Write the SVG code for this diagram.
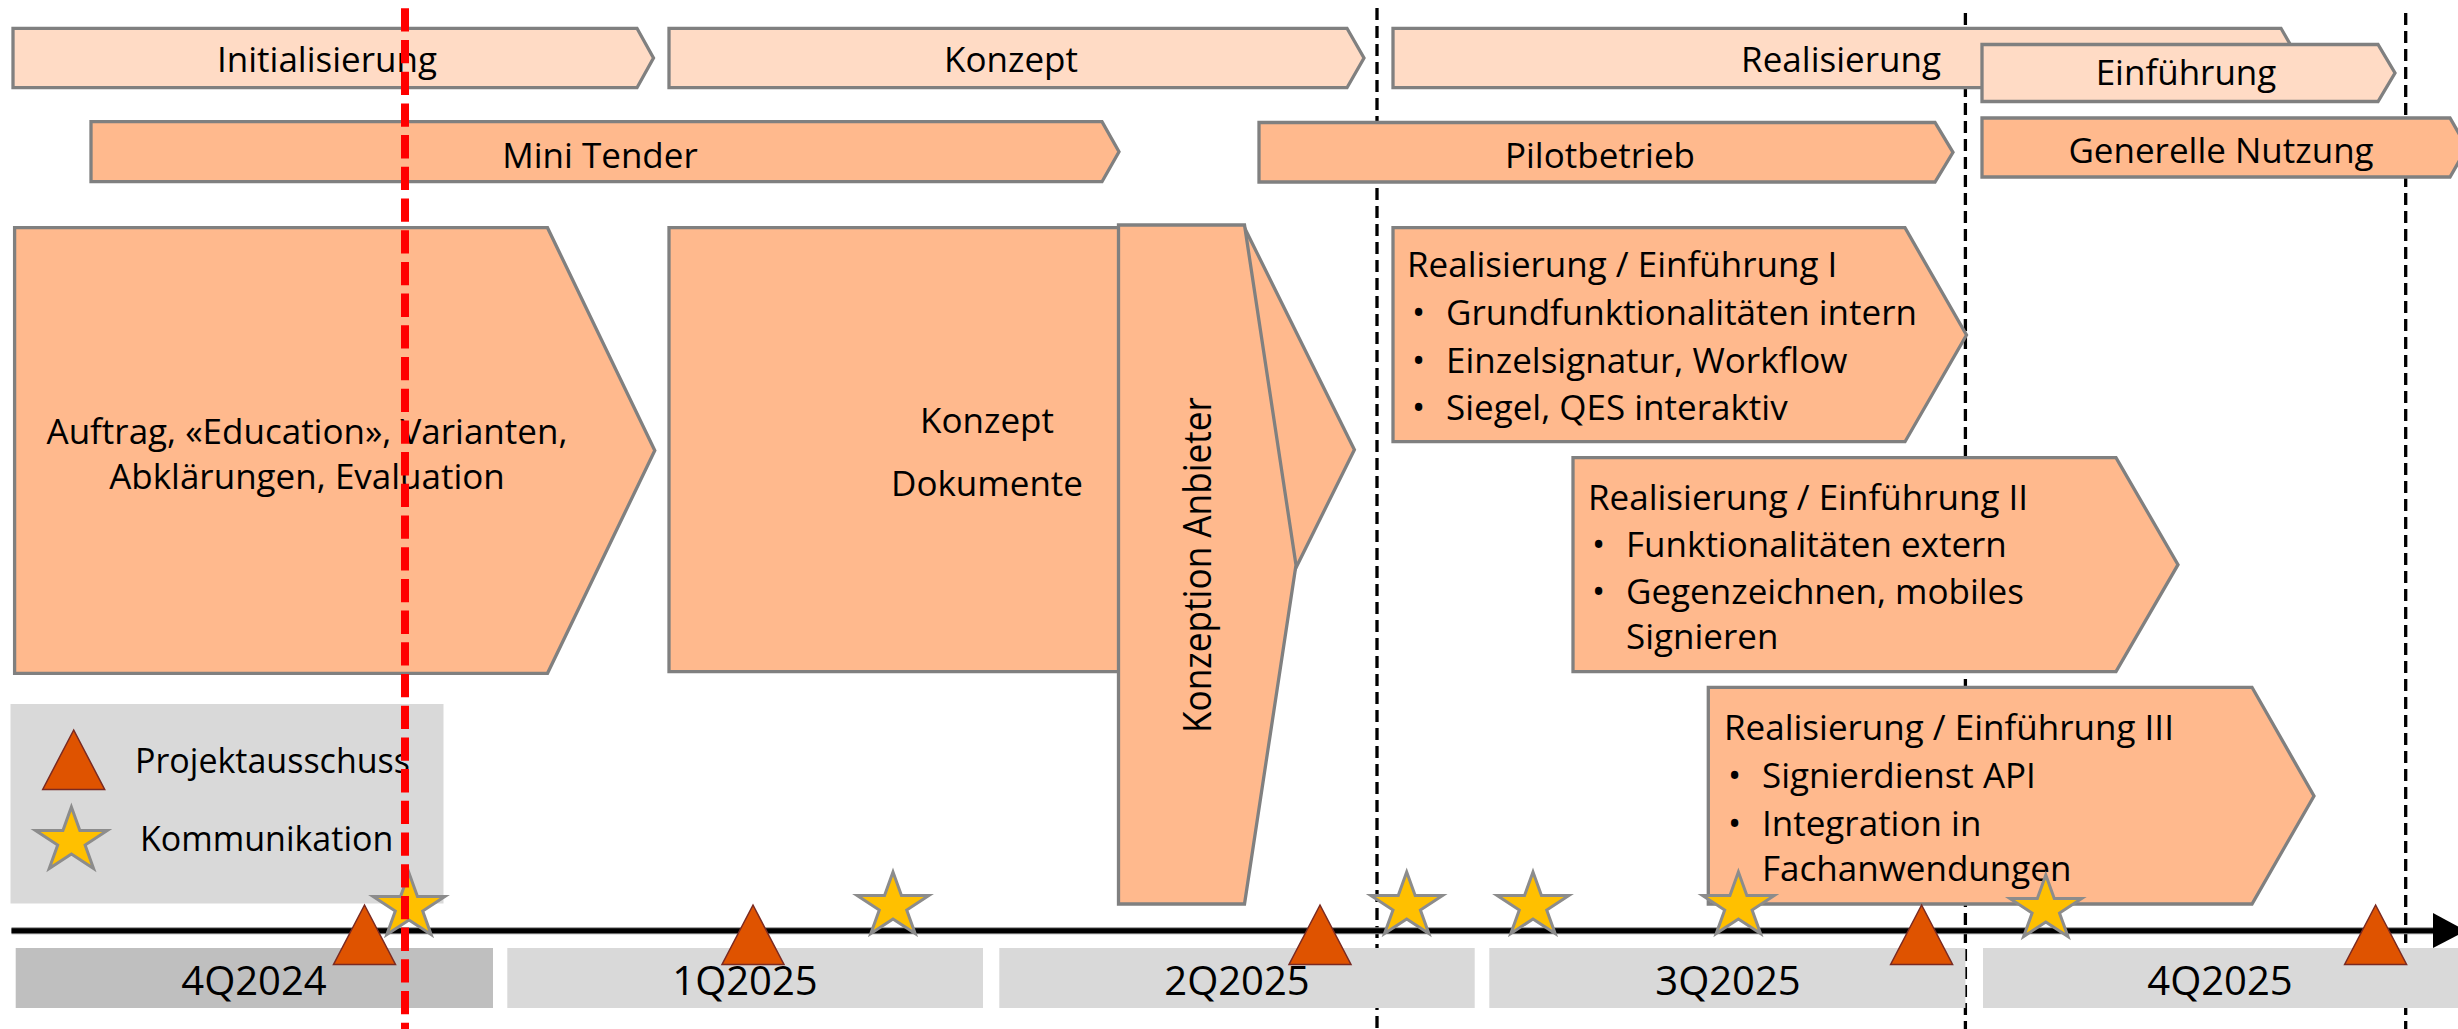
<svg xmlns="http://www.w3.org/2000/svg" width="2458" height="1029" viewBox="0 0 2458 1029">
<style>
text{font-family:"Open Sans","Noto Sans","Liberation Sans",sans-serif;fill:#000}
.t{font-size:35px}
.l{font-size:34px}
.c{text-anchor:middle}
.q{font-size:40px;text-anchor:middle}
.p1{fill:#FFDBC5;stroke:#808080;stroke-width:3.3}
.p2{fill:#FFB98D;stroke:#808080;stroke-width:3.3}
.bar{fill:#D9D9D9}
.bar0{fill:#BFBFBF}
.vd{stroke:#000;stroke-width:3.3;stroke-dasharray:12 6;fill:none}
.tri{fill:#DF5300;stroke:#7A2A22;stroke-width:1.5}
.star{fill:#FFC000;stroke:#8C8C8C;stroke-width:3}
</style>
<defs>
<path id="star" d="M0,-34 L8.46,-10.5 L35.86,-10.5 L13.7,4 L22.17,27.5 L0,13 L-22.17,27.5 L-13.7,4 L-35.86,-10.5 L-8.46,-10.5 Z"/>
<path id="tri" d="M0,0 L31,59.5 L-31,59.5 Z"/>
</defs>

<g id="gridlines">
<line class="vd" x1="1377" y1="8" x2="1377" y2="1029"/>
<line class="vd" x1="1965.4" y1="13" x2="1965.4" y2="1029"/>
<line class="vd" x1="2405.7" y1="13" x2="2405.7" y2="1029"/>
</g>

<g id="phase-initialisierung">
<polygon class="p1" points="13,28.3 637,28.3 653.5,58 637,87.7 13,87.7"/>
<text class="t c" x="327" y="72">Initialisierung</text>
</g>
<g id="phase-konzept">
<polygon class="p1" points="669,28.3 1347,28.3 1364,58 1347,87.7 669,87.7"/>
<text class="t c" x="1011" y="72">Konzept</text>
</g>
<g id="phase-realisierung">
<polygon class="p1" points="1393,28.3 2281,28.3 2298,58 2281,87.7 1393,87.7"/>
<text class="t c" x="1841" y="72">Realisierung</text>
</g>
<g id="phase-einfuehrung">
<polygon class="p1" points="1982,44.5 2378,44.5 2395,73 2378,101.5 1982,101.5"/>
<text class="t c" x="2186" y="85">Einführung</text>
</g>

<g id="mini-tender">
<polygon class="p2" points="91,121.7 1102,121.7 1119,151.7 1102,181.7 91,181.7"/>
<text class="t c" x="600" y="168">Mini Tender</text>
</g>
<g id="pilotbetrieb">
<polygon class="p2" points="1259,122.5 1935,122.5 1953,152.3 1935,182 1259,182"/>
<text class="t c" x="1600" y="168">Pilotbetrieb</text>
</g>
<g id="generelle-nutzung">
<polygon class="p2" points="1982,118 2450,118 2467,147.5 2450,177 1982,177"/>
<text class="t c" x="2221" y="163">Generelle Nutzung</text>
</g>

<g id="auftrag">
<polygon class="p2" points="14.6,227.7 547.5,227.7 654.8,450.5 547.5,673.3 14.6,673.3"/>
<text class="t c" x="307" y="444">Auftrag, «Education», Varianten,</text>
<text class="t c" x="307" y="489">Abklärungen, Evaluation</text>
</g>
<g id="konzept-dokumente">
<polygon class="p2" points="669,227.7 1244.5,227.7 1354.4,449.7 1244.5,671.7 669,671.7"/>
<text class="t c" x="987" y="433">Konzept</text>
<text class="t c" x="987" y="496">Dokumente</text>
</g>
<g id="konzeption-anbieter">
<polygon class="p2" points="1118.5,225 1244.5,225 1296,565 1244.5,904 1118.5,904"/>
<text transform="translate(1211,733) rotate(-90)" x="0" y="0" style="font-size:38px" textLength="336" lengthAdjust="spacingAndGlyphs">Konzeption Anbieter</text>
</g>

<g id="realisierung-1">
<polygon class="p2" points="1393,227.7 1905,227.7 1966.5,335 1905,441.7 1393,441.7"/>
<text class="t" x="1407" y="277">Realisierung / Einführung I</text>
<text class="t" x="1412" y="325">•</text><text class="t" x="1446" y="325">Grundfunktionalitäten intern</text>
<text class="t" x="1412" y="373">•</text><text class="t" x="1446" y="373">Einzelsignatur, Workflow</text>
<text class="t" x="1412" y="420">•</text><text class="t" x="1446" y="420">Siegel, QES interaktiv</text>
</g>
<g id="realisierung-2">
<polygon class="p2" points="1573,457.7 2116,457.7 2178,564.7 2116,671.7 1573,671.7"/>
<text class="t" x="1588" y="510">Realisierung / Einführung II</text>
<text class="t" x="1592" y="557">•</text><text class="t" x="1626" y="557">Funktionalitäten extern</text>
<text class="t" x="1592" y="604">•</text><text class="t" x="1626" y="604">Gegenzeichnen, mobiles</text>
<text class="t" x="1626" y="649">Signieren</text>
</g>
<g id="realisierung-3">
<polygon class="p2" points="1708.3,687.3 2252,687.3 2314,796 2252,904 1708.3,904"/>
<text class="t" x="1724" y="740">Realisierung / Einführung III</text>
<text class="t" x="1728" y="788">•</text><text class="t" x="1762" y="788">Signierdienst API</text>
<text class="t" x="1728" y="836">•</text><text class="t" x="1762" y="836">Integration in</text>
<text class="t" x="1762" y="881">Fachanwendungen</text>
</g>

<g id="legend">
<rect x="10.5" y="704" width="433" height="199.5" fill="#D9D9D9"/>
<use href="#tri" class="tri" x="73.7" y="730"/>
<text class="l" x="135" y="773">Projektausschuss</text>
<use href="#star" class="star" x="71.4" y="841"/>
<text class="l" x="140" y="851">Kommunikation</text>
</g>

<g id="quarters">
<rect class="bar0" x="15.7" y="948" width="477.3" height="60"/>
<rect class="bar" x="507.3" y="948" width="475.7" height="60"/>
<rect class="bar" x="999.3" y="948" width="475.4" height="60"/>
<rect class="bar" x="1489.3" y="948" width="476.1" height="60"/>
<rect class="bar" x="1983" y="948" width="480" height="60"/>
<text class="q" x="254" y="995">4Q2024</text>
<text class="q" x="745" y="995">1Q2025</text>
<text class="q" x="1237" y="995">2Q2025</text>
<text class="q" x="1728" y="995">3Q2025</text>
<text class="q" x="2220" y="995">4Q2025</text>
</g>

<g id="connectors">
<line x1="11.5" y1="930.7" x2="2436" y2="930.7" stroke="#8C8C8C" stroke-width="7"/>
<line x1="11.5" y1="930.7" x2="2436" y2="930.7" stroke="#000" stroke-width="5"/>
<polygon points="2433,913 2466,930.7 2433,948" fill="#000"/>
</g>

<g id="milestones">
<use href="#tri" class="tri" x="364.5" y="905"/>
<use href="#tri" class="tri" x="753" y="905"/>
<use href="#tri" class="tri" x="1320" y="905"/>
<use href="#tri" class="tri" x="1921.6" y="905"/>
<use href="#tri" class="tri" x="2375.6" y="905"/>
<use href="#star" class="star" x="409" y="907"/>
<use href="#star" class="star" x="893" y="906"/>
<use href="#star" class="star" x="1406.7" y="906"/>
<use href="#star" class="star" x="1533" y="906"/>
<use href="#star" class="star" x="1738.4" y="906"/>
<use href="#star" class="star" x="2045.8" y="909"/>
</g>

<g id="today-line">
<line x1="405" y1="8.3" x2="405" y2="1029" stroke="#FF0000" stroke-width="8" stroke-dasharray="23.3 8.4"/>
</g>
</svg>
